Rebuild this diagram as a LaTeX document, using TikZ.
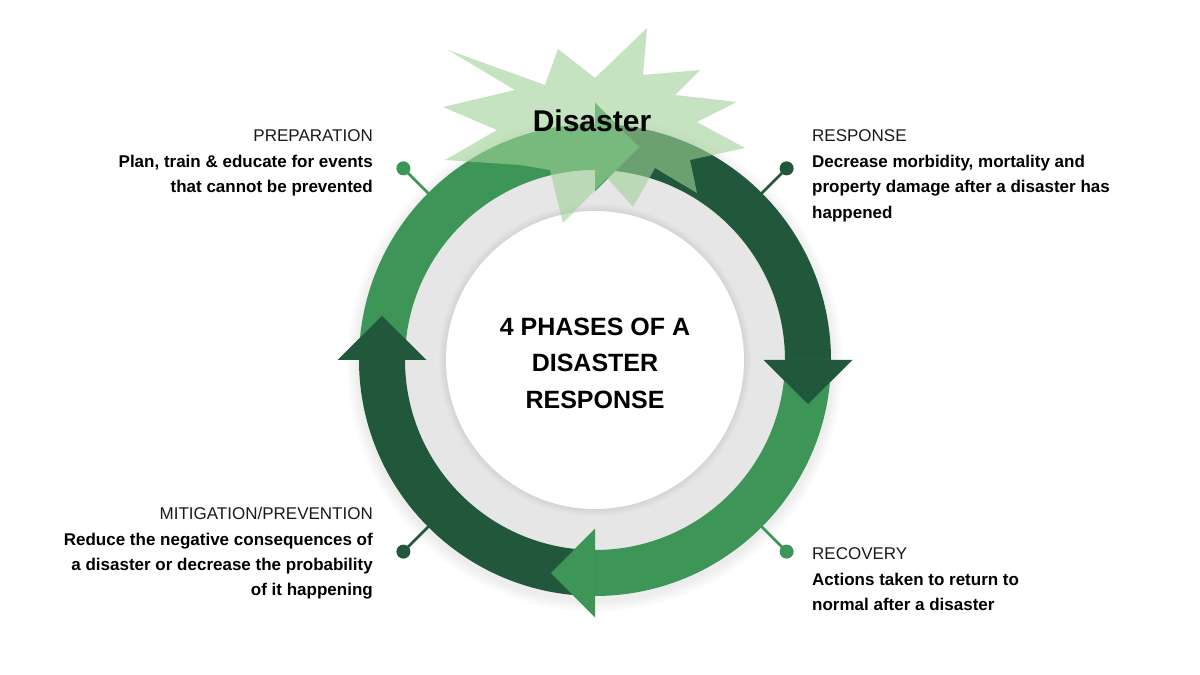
\documentclass[tikz,border=0pt]{standalone}
\usepackage{fontspec}
\setmainfont{Liberation Sans}
\usetikzlibrary{calc}
\definecolor{dkgreen}{HTML}{21573A}
\definecolor{mdgreen}{HTML}{3E9558}
\definecolor{ringgray}{HTML}{E6E6E6}
\definecolor{starfill}{HTML}{9FD196}
\definecolor{txt}{HTML}{1A1A1A}
\newcommand\ringbody[3]{\fill[#1] ($(C)+(#2:236)$) arc[start angle=#2, end angle=#3, radius=236] -- ($(C)+(#3:190)$) arc[start angle=#3, end angle=#2, radius=190] -- cycle;}
\newcommand\ringhead[2]{\fill[#1] ($(C)+(#2:257.5)$) -- ($(C)+(#2:213)+({#2-90}:44)$) -- ($(C)+(#2:168.5)$) -- cycle;}
\begin{document}
\begin{tikzpicture}[x=1pt,y=1pt,
  hdr/.style={font=\fontsize{17}{20}\selectfont, inner sep=0, text=txt},
  bodytxt/.style={font=\bfseries\fontsize{17}{20}\selectfont, inner sep=0, text=black},
  center/.style={font=\bfseries\fontsize{25}{29}\selectfont, inner sep=0, text=black, anchor=base},
  dot/.style={circle, inner sep=0, minimum size=14},
  conn/.style={line width=2.5}]
\useasboundingbox (0,0) rectangle (1200,675);
\fill[white] (0,0) rectangle (1200,675);
\coordinate (C) at (595,315);
% soft shadow
\foreach \i in {1,...,6}{
  \fill[black, opacity=0.012] ($(C)+(0,-4)$) circle[radius={236+\i*2}];
}
% gray ring
\fill[ringgray] (C) circle[radius=191];
\foreach \i in {0,...,5}{
  \fill[black, opacity=0.01] (C) circle[radius={150+\i*1.2}];
}
\fill[white] (C) circle[radius=149];
% arrow bodies
\ringbody{mdgreen}{180}{90}
\ringbody{dkgreen}{90}{0}
\ringbody{mdgreen}{0}{-90}
\ringbody{dkgreen}{-90}{-180}
% arrow heads
\ringhead{mdgreen}{90}
\ringhead{dkgreen}{0}
\ringhead{mdgreen}{-90}
\ringhead{dkgreen}{180}
% connectors
\coordinate (prepE) at ($(C)+(135:234)$);
\coordinate (respE) at ($(C)+(45:234)$);
\coordinate (recE) at ($(C)+(-45:234)$);
\coordinate (mitE) at ($(C)+(-135:234)$);
\node[dot, fill=mdgreen] (prepD) at ($(C)+(135:271)$) {};
\node[dot, fill=dkgreen] (respD) at ($(C)+(45:271)$) {};
\node[dot, fill=mdgreen] (recD) at ($(C)+(-45:271)$) {};
\node[dot, fill=dkgreen] (mitD) at ($(C)+(-135:271)$) {};
\draw[conn, mdgreen] (prepE) -- (prepD.center);
\draw[conn, dkgreen] (respE) -- (respD.center);
\draw[conn, mdgreen] (recE) -- (recD.center);
\draw[conn, dkgreen] (mitE) -- (mitD.center);
% starburst
\fill[starfill, opacity=0.6]
  (443,568) -- (515,585) -- (448,625) -- (545,590) -- (558,626) -- (595,597)
  -- (647,647) -- (643,600) -- (700,605) -- (675,580) -- (737,573) -- (697,553)
  -- (745,527) -- (690,515) -- (697,482) -- (655,507) -- (633,468) -- (607,497)
  -- (563,452) -- (550,505) -- (520,510) -- (445,515) -- (497,545) -- cycle;
\node[font=\bfseries\fontsize{30}{34}\selectfont, inner sep=0, anchor=base] (dis) at (592,543) {Disaster};
% center text
\node[center] (c1) at (595,339) {4 PHASES OF A};
\node[center] (c2) at (595,303) {DISASTER};
\node[center] (c3) at (595,266) {RESPONSE};
% preparation
\node[hdr, anchor=base east] (prepH) at (373,533) {PREPARATION};
\node[bodytxt, anchor=base east] (prep1) at (373,507) {Plan, train \& educate for events};
\node[bodytxt, anchor=base east] (prep2) at (373,482) {that cannot be prevented};
% response
\node[hdr, anchor=base west] (respH) at (812,533) {RESPONSE};
\node[bodytxt, anchor=base west] (resp1) at (812,507) {Decrease morbidity, mortality and};
\node[bodytxt, anchor=base west] (resp2) at (812,482) {property damage after a disaster has};
\node[bodytxt, anchor=base west] (resp3) at (812,456) {happened};
% mitigation
\node[hdr, anchor=base east] (mitH) at (373,155) {MITIGATION/PREVENTION};
\node[bodytxt, anchor=base east] (mit1) at (373,129) {Reduce the negative consequences of};
\node[bodytxt, anchor=base east] (mit2) at (373,104) {a disaster or decrease the probability};
\node[bodytxt, anchor=base east] (mit3) at (373,79) {of it happening};
% recovery
\node[hdr, anchor=base west] (recH) at (812,115) {RECOVERY};
\node[bodytxt, anchor=base west] (rec1) at (812,89) {Actions taken to return to};
\node[bodytxt, anchor=base west] (rec2) at (812,64) {normal after a disaster};
\end{tikzpicture}
\end{document}
